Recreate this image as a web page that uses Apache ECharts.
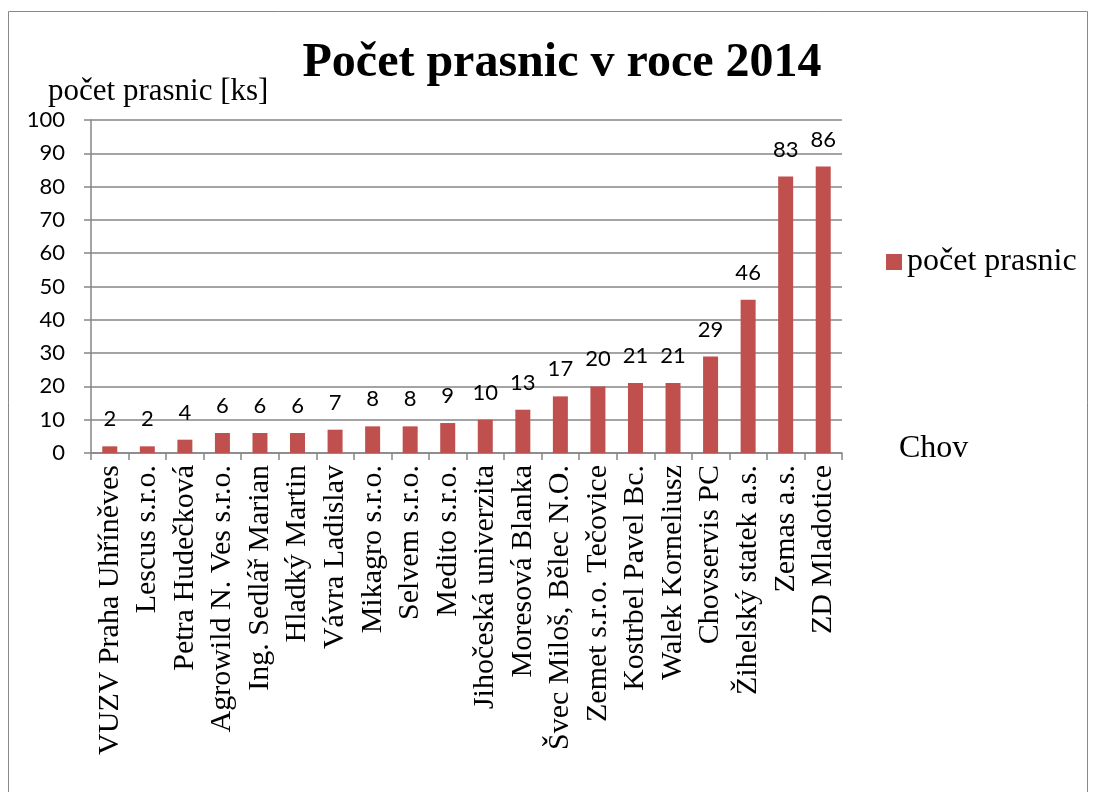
<!DOCTYPE html>
<html><head><meta charset="utf-8">
<script src="https://cdn.jsdelivr.net/npm/echarts@6/dist/echarts.min.js"></script>
<style>html,body{margin:0;padding:0;background:#fff}#c{width:1093px;height:792px}</style>
</head><body><div id="c"></div>
<script>
const categories = ["VUZV Praha Uhříněves","Lescus s.r.o.","Petra Hudečková","Agrowild N. Ves s.r.o.","Ing. Sedlář Marian","Hladký Martin","Vávra Ladislav","Mikagro s.r.o.","Selvem s.r.o.","Medito s.r.o.","Jihočeská univerzita","Moresová Blanka","Švec Miloš, Bělec N.O.","Zemet s.r.o. Tečovice","Kostrbel Pavel Bc.","Walek Korneliusz","Chovservis PC","Žihelský statek a.s.","Zemas a.s.","ZD Mladotice"];
const values = [2,2,4,6,6,6,7,8,8,9,10,13,17,20,21,21,29,46,83,86];
const seriesName = "počet prasnic";
const titleText = "Počet prasnic v roce 2014";
const yName = "počet prasnic [ks]";
const xName = "Chov";

const serif = "'Liberation Serif','Times New Roman',serif";
const sans = "Lato,'Liberation Sans',sans-serif";
const chart = echarts.init(document.getElementById('c'));
chart.setOption({
  animation:false,
  backgroundColor:'#fff',
  title:{text:titleText,left:557,textAlign:'center',top:35,textStyle:{fontFamily:serif,fontWeight:'bold',fontSize:48,color:'#000'}},
  legend:{left:886,top:246,padding:0,itemWidth:16,itemHeight:16,itemGap:6,icon:'rect',
    textStyle:{fontFamily:serif,fontSize:32,color:'#000',padding:[0,0,0,0]},data:[seriesName]},
  grid:{left:91,right:251,top:120,bottom:339,containLabel:false},
  graphic:[{type:'rect',shape:{x:8.5,y:11.5,width:1079,height:800},style:{fill:null,stroke:'#888',lineWidth:1}},
    {type:'text',left:48,top:76,style:{text:yName,font:"31px "+serif,fill:'#000'}},
    {type:'text',left:899,top:433,style:{text:xName,font:"32px "+serif,fill:'#000'}}],
  xAxis:{type:'category',data:categories,
    axisLine:{lineStyle:{color:'#868686',width:1.5}},
    axisTick:{show:true,length:7,lineStyle:{color:'#868686',width:1.5}},
    axisLabel:{rotate:90,interval:0,margin:12,fontFamily:serif,fontSize:30,color:'#000'}},
  yAxis:{type:'value',min:0,max:100,interval:10,
    axisLine:{show:true,lineStyle:{color:'#868686',width:1.5}},
    axisTick:{show:true,length:7,inside:false,lineStyle:{color:'#868686',width:1.5}},
    splitLine:{lineStyle:{color:'#868686',width:1.5}},
    axisLabel:{margin:26,fontFamily:sans,fontSize:22,color:'#000'}},
  series:[{type:'bar',name:seriesName,data:values,barWidth:15,
    itemStyle:{color:'#C0504D'},
    label:{show:true,position:'top',distance:16,fontFamily:sans,fontSize:22,color:'#000'}}]
});
</script></body></html>
